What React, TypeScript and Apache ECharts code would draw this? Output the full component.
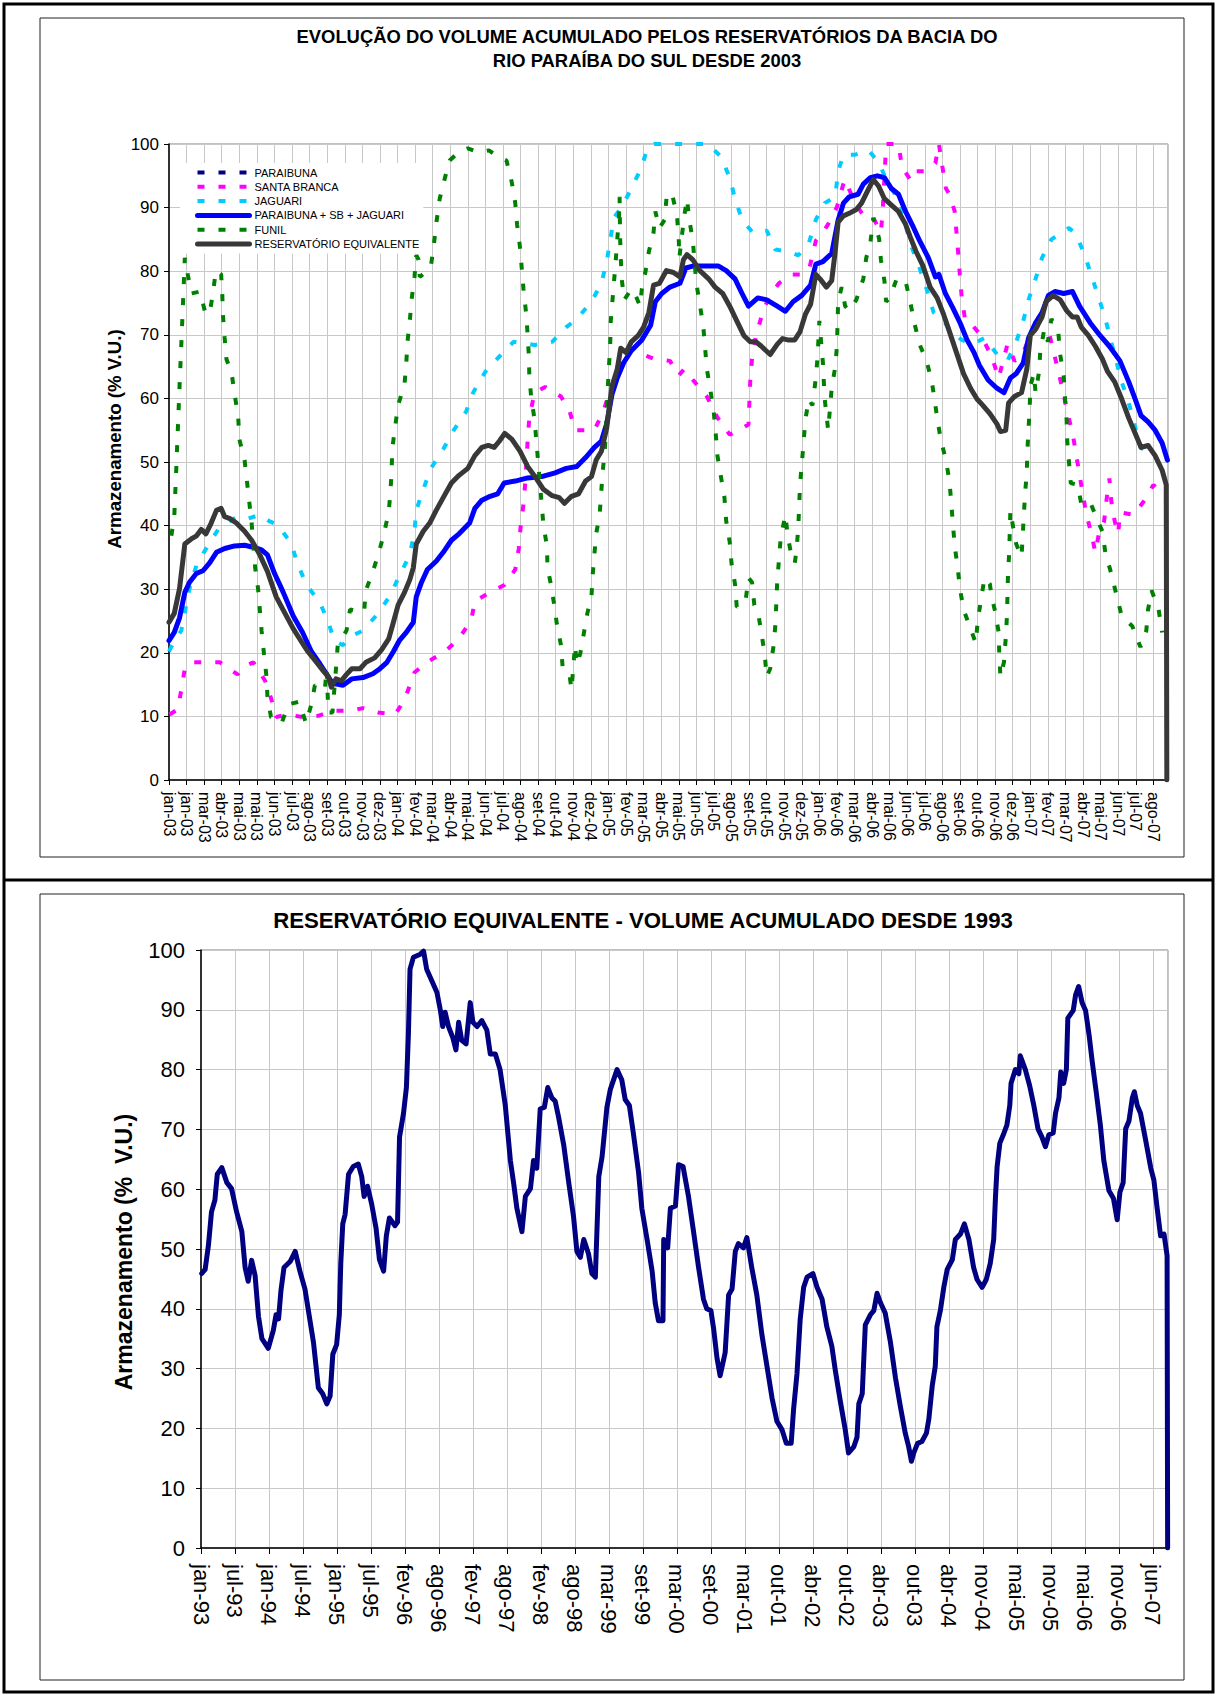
import React, { useEffect, useRef } from 'react';
import * as echarts from 'echarts';

// ---------- tick labels ----------
const topTickLabels = [
  'jan-03', 'jan-03', 'mar-03', 'abr-03', 'mai-03', 'mai-03', 'jun-03', 'jul-03', 'ago-03', 'set-03', 'out-03', 'nov-03', 'dez-03',
  'jan-04', 'fev-04', 'mar-04', 'abr-04', 'mai-04', 'jun-04', 'jul-04', 'ago-04', 'set-04', 'out-04', 'nov-04', 'dez-04',
  'jan-05', 'fev-05', 'mar-05', 'abr-05', 'mai-05', 'jun-05', 'jul-05', 'ago-05', 'set-05', 'out-05', 'nov-05', 'dez-05',
  'jan-06', 'fev-06', 'mar-06', 'abr-06', 'mai-06', 'jun-06', 'jul-06', 'ago-06', 'set-06', 'out-06', 'nov-06', 'dez-06',
  'jan-07', 'fev-07', 'mar-07', 'abr-07', 'mai-07', 'jun-07', 'jul-07', 'ago-07',
];
const bottomTickLabels = [
  'jan-93', 'jul-93', 'jan-94', 'jul-94', 'jan-95', 'jul-95', 'fev-96', 'ago-96', 'fev-97', 'ago-97', 'fev-98', 'ago-98',
  'mar-99', 'set-99', 'mar-00', 'set-00', 'mar-01', 'out-01', 'abr-02', 'out-02', 'abr-03', 'out-03', 'abr-04', 'nov-04',
  'mai-05', 'nov-05', 'mai-06', 'nov-06', 'jun-07',
];
const TOP_STEP = 30; // days between top tick labels (day 0 = 1 jan 2003)
const TOP_MAX = 1705;
const BOTTOM_STEP = 188; // days between bottom tick labels (day 0 = 1 jan 1993)
const BOTTOM_MAX = 5348;

// ---------- series (day, % V.U.) ----------
const paraibuna: [number, number][] = [];

const santaBranca: [number, number][] = [
  [1, 10.3], [15, 11.1], [21, 14.2], [27, 17.5], [38, 18.5], [63, 18.5], [87, 18.5], [117, 16.6], [129, 17.9], [144, 18.5],
  [164, 15.6], [174, 12.9], [183, 9.9], [201, 10.3], [228, 9.9], [255, 10.1], [279, 10.9], [309, 10.9], [331, 11.3], [357, 10.6],
  [386, 10.3], [402, 12.6], [419, 16.9], [440, 18.5], [471, 20.2], [495, 22.2], [516, 25.2], [522, 28.1], [548, 29.5], [573, 30.7],
  [591, 33.1], [597, 36.4], [600, 39.7], [605, 43.4], [608, 46.7], [610, 50.0], [612, 53.3], [615, 57.0], [624, 60.9], [642, 61.8],
  [669, 60.3], [684, 57.9], [693, 55.0], [708, 55.0], [726, 55.0], [741, 57.9], [753, 61.3], [768, 65.2], [783, 67.9], [804, 67.1],
  [828, 66.2], [855, 65.9], [870, 63.6], [879, 64.6], [897, 62.6], [918, 60.3], [936, 57.0], [957, 54.3], [978, 55.3], [989, 55.9],
  [992, 62.6], [995, 66.2], [1002, 69.9], [1011, 72.8], [1023, 75.8], [1041, 78.1], [1062, 79.5], [1077, 79.5], [1092, 80.1], [1104, 84.8],
  [1116, 86.1], [1125, 87.4], [1140, 90.1], [1153, 94.4], [1173, 90.4], [1188, 88.4], [1202, 88.4], [1215, 86.1], [1218, 89.4], [1224, 100],
  [1245, 100], [1251, 96.4], [1265, 94.4], [1269, 95.7], [1290, 95.7], [1308, 97.0], [1314, 100], [1320, 96.4], [1326, 93.0], [1332, 92.1],
  [1341, 89.4], [1344, 86.1], [1347, 82.8], [1350, 79.1], [1353, 75.8], [1359, 72.2], [1371, 71.5], [1386, 69.9], [1404, 66.6], [1416, 63.2],
  [1431, 68.5], [1443, 65.9], [1455, 66.6], [1467, 69.2], [1482, 71.2], [1491, 70.5], [1503, 69.9], [1518, 64.2], [1527, 60.6], [1533, 57.9],
  [1542, 54.6], [1548, 51.3], [1554, 48.0], [1560, 44.7], [1566, 41.7], [1575, 38.4], [1581, 35.8], [1587, 38.7], [1596, 40.7], [1600, 44.0],
  [1605, 47.4], [1608, 44.0], [1614, 40.7], [1620, 38.7], [1623, 42.1], [1647, 41.7], [1665, 44.0], [1680, 46.4], [1701, 44.4],
];

const jaguari: [number, number][] = [
  [0, 20.2], [9, 21.9], [21, 23.5], [35, 30.1], [47, 33.8], [66, 36.8], [84, 39.4], [98, 40.4], [117, 41.4], [135, 41.1],
  [155, 41.7], [171, 40.7], [186, 40.1], [209, 37.1], [219, 34.1], [234, 30.8], [258, 27.8], [272, 24.8], [282, 21.9], [297, 21.2],
  [309, 22.5], [331, 23.5], [357, 26.2], [378, 29.1], [393, 32.1], [411, 35.4], [419, 39.1], [422, 42.4], [434, 45.7], [447, 49.0],
  [468, 52.0], [486, 55.0], [507, 57.9], [519, 60.9], [540, 64.2], [564, 66.6], [588, 68.9], [624, 68.4], [654, 68.9], [678, 71.2],
  [696, 72.5], [721, 75.2], [738, 78.1], [747, 81.5], [753, 84.8], [759, 88.4], [773, 90.1], [789, 93.0], [807, 96.4], [816, 99.3],
  [828, 100], [920, 100], [942, 98.0], [957, 94.7], [966, 91.4], [978, 88.1], [996, 86.1], [1020, 86.4], [1035, 83.4], [1056, 83.1],
  [1074, 82.5], [1092, 84.4], [1104, 88.1], [1119, 90.7], [1137, 91.7], [1142, 95.7], [1151, 98.3], [1170, 98.3], [1194, 99.0], [1212, 97.0],
  [1224, 94.4], [1248, 90.7], [1265, 84.4], [1281, 80.5], [1293, 77.2], [1305, 73.5], [1322, 72.2], [1335, 70.5], [1353, 69.2], [1371, 68.5],
  [1392, 69.5], [1416, 66.6], [1431, 65.9], [1446, 68.9], [1458, 72.2], [1467, 75.5], [1479, 78.8], [1490, 82.1], [1506, 85.0], [1536, 86.8],
  [1548, 85.8], [1563, 82.5], [1575, 79.1], [1587, 75.8], [1599, 72.2], [1608, 68.9], [1626, 62.6], [1638, 59.3], [1658, 52.3], [1680, 51.0],
];

const paraibunaSbJaguari: [number, number][] = [
  [0, 21.9], [9, 23.2], [18, 25.5], [27, 29.5], [35, 31.1], [47, 32.5], [58, 32.9], [69, 34.1], [81, 35.8], [95, 36.4],
  [112, 36.8], [129, 36.9], [144, 36.6], [158, 36.2], [168, 35.4], [180, 32.5], [195, 29.5], [212, 25.8], [228, 23.2], [243, 20.2],
  [258, 18.2], [272, 16.2], [279, 15.2], [297, 14.9], [312, 15.9], [331, 16.1], [348, 16.7], [360, 17.5], [372, 18.5], [383, 20.2],
  [393, 21.9], [405, 23.2], [417, 24.8], [422, 28.8], [431, 31.1], [441, 33.1], [456, 34.4], [468, 35.8], [482, 37.7], [495, 38.7],
  [513, 40.4], [522, 42.7], [534, 44.0], [548, 44.6], [561, 45.0], [572, 46.7], [591, 47.0], [612, 47.5], [636, 47.7], [659, 48.3],
  [678, 49.0], [696, 49.3], [711, 50.7], [726, 52.3], [738, 53.3], [747, 56.0], [756, 60.6], [765, 63.2], [776, 65.6], [789, 67.5],
  [807, 69.2], [822, 71.5], [830, 75.2], [841, 76.5], [855, 77.5], [872, 78.1], [882, 80.5], [894, 80.8], [915, 80.8], [938, 80.8],
  [951, 80.1], [966, 78.8], [978, 76.5], [989, 74.5], [1005, 75.8], [1020, 75.5], [1038, 74.5], [1052, 73.7], [1065, 75.2], [1080, 76.2],
  [1095, 77.8], [1104, 81.1], [1116, 81.5], [1131, 82.8], [1142, 88.0], [1151, 90.7], [1161, 91.7], [1176, 92.1], [1185, 93.7], [1197, 94.7],
  [1209, 95.0], [1221, 94.7], [1233, 93.0], [1245, 92.1], [1257, 89.4], [1271, 86.8], [1281, 84.8], [1296, 82.1], [1308, 79.1], [1314, 79.5],
  [1325, 76.5], [1338, 74.2], [1350, 71.9], [1362, 69.2], [1374, 67.2], [1383, 65.2], [1398, 62.9], [1413, 61.6], [1425, 60.9], [1436, 63.2],
  [1446, 63.9], [1458, 65.6], [1467, 69.5], [1479, 71.9], [1490, 73.5], [1501, 76.2], [1512, 76.8], [1527, 76.5], [1542, 76.8], [1554, 74.5],
  [1572, 71.9], [1589, 69.9], [1605, 68.2], [1623, 65.9], [1638, 62.6], [1649, 59.9], [1659, 57.3], [1671, 56.3], [1683, 55.0], [1695, 53.0],
  [1704, 50.3],
];

const funil: [number, number][] = [
  [4, 38.4], [9, 41.4], [12, 48.0], [15, 55.0], [18, 61.9], [21, 68.5], [24, 75.2], [27, 82.1], [32, 79.5], [38, 76.5],
  [53, 76.8], [61, 73.8], [69, 73.2], [75, 76.5], [80, 80.1], [89, 79.5], [91, 76.2], [92, 73.2], [95, 69.5], [98, 66.2],
  [107, 63.9], [112, 60.6], [118, 57.3], [120, 53.6], [129, 50.3], [133, 47.0], [137, 43.7], [141, 40.4], [147, 33.4], [152, 30.1],
  [155, 26.8], [158, 23.5], [162, 19.9], [166, 16.6], [168, 13.2], [174, 9.9], [192, 8.9], [204, 11.9], [222, 12.3], [234, 8.9],
  [243, 11.9], [249, 14.9], [266, 14.2], [269, 17.5], [272, 10.6], [279, 10.6], [285, 17.5], [288, 21.2], [303, 23.5], [309, 26.8],
  [323, 26.5], [333, 26.5], [336, 29.8], [348, 32.8], [357, 35.4], [366, 38.4], [375, 42.1], [378, 45.4], [380, 48.7], [381, 52.0],
  [386, 55.6], [391, 58.9], [402, 62.3], [405, 65.6], [407, 68.9], [411, 72.2], [414, 75.5], [419, 79.1], [422, 82.5], [426, 81.8],
  [428, 79.1], [437, 79.8], [447, 80.8], [452, 84.1], [456, 87.4], [462, 91.4], [471, 94.7], [479, 97.4], [494, 98.7], [510, 99.3],
  [528, 98.7], [546, 99.0], [561, 98.0], [576, 97.4], [585, 94.0], [591, 90.7], [594, 87.4], [599, 83.8], [602, 80.5], [605, 77.2],
  [609, 73.8], [612, 70.2], [614, 66.9], [615, 63.6], [618, 60.3], [624, 56.6], [627, 53.3], [630, 50.0], [633, 46.7], [639, 40.1],
  [645, 36.8], [646, 33.4], [651, 31.1], [657, 27.8], [662, 24.5], [669, 21.2], [672, 17.5], [678, 16.6], [684, 16.2], [687, 14.2],
  [693, 21.2], [696, 18.2], [702, 19.9], [714, 26.2], [721, 28.8], [723, 32.1], [729, 38.7], [735, 41.7], [740, 48.3], [744, 52.0],
  [749, 61.9], [753, 68.5], [754, 72.2], [759, 77.8], [762, 81.1], [768, 88.7], [769, 91.7], [770, 85.1], [771, 82.1], [773, 78.5],
  [777, 75.5], [789, 77.2], [795, 76.5], [804, 74.5], [807, 77.2], [813, 79.8], [819, 83.1], [827, 86.1], [830, 89.4], [837, 86.8],
  [846, 88.1], [849, 91.4], [858, 92.4], [867, 88.7], [870, 85.1], [871, 82.1], [879, 88.4], [884, 91.4], [888, 88.1], [894, 84.8],
  [900, 78.1], [906, 74.8], [912, 71.2], [915, 67.9], [918, 64.6], [924, 61.3], [930, 57.6], [933, 54.6], [936, 51.0], [942, 47.7],
  [948, 44.4], [951, 40.7], [957, 37.4], [960, 34.1], [966, 30.8], [969, 27.2], [984, 28.1], [989, 31.8], [995, 31.1], [999, 27.5],
  [1005, 26.5], [1011, 23.2], [1017, 19.5], [1020, 16.2], [1026, 17.5], [1032, 21.2], [1035, 24.5], [1038, 31.1], [1044, 38.1], [1052, 41.7],
  [1056, 38.4], [1062, 35.4], [1068, 34.1], [1071, 36.1], [1074, 39.7], [1077, 46.4], [1080, 49.7], [1083, 53.0], [1086, 56.6], [1092, 59.9],
  [1098, 58.9], [1104, 63.2], [1107, 66.6], [1110, 72.2], [1116, 65.6], [1119, 60.0], [1125, 55.0], [1131, 61.6], [1137, 64.9], [1140, 68.2],
  [1142, 75.2], [1148, 77.5], [1154, 74.5], [1161, 73.8], [1173, 75.5], [1185, 78.8], [1190, 82.1], [1197, 84.4], [1202, 88.4], [1212, 85.1],
  [1215, 81.8], [1221, 78.5], [1224, 75.2], [1230, 75.8], [1242, 78.8], [1257, 78.5], [1265, 75.2], [1272, 71.9], [1281, 68.5], [1293, 65.9],
  [1302, 62.6], [1308, 58.9], [1311, 57.0], [1317, 53.6], [1326, 50.3], [1332, 47.0], [1335, 43.7], [1338, 40.1], [1341, 36.8], [1346, 33.4],
  [1350, 30.1], [1356, 26.8], [1368, 23.8], [1377, 21.5], [1380, 24.8], [1386, 28.5], [1392, 31.8], [1401, 30.8], [1404, 28.8], [1410, 26.5],
  [1416, 23.2], [1417, 19.9], [1419, 16.2], [1425, 18.5], [1428, 22.2], [1430, 25.5], [1431, 28.8], [1432, 32.5], [1434, 35.8], [1435, 39.1],
  [1436, 42.4], [1440, 40.1], [1446, 37.1], [1455, 35.1], [1457, 38.4], [1459, 41.7], [1461, 45.0], [1464, 48.3], [1465, 51.7], [1467, 55.3],
  [1469, 58.6], [1470, 61.9], [1476, 63.9], [1479, 60.9], [1485, 64.2], [1487, 67.5], [1494, 70.9], [1500, 68.9], [1506, 72.5], [1518, 70.2],
  [1521, 66.9], [1527, 63.6], [1529, 60.3], [1532, 56.6], [1533, 53.3], [1536, 50.0], [1539, 46.7], [1551, 46.4], [1557, 43.4], [1572, 43.7],
  [1581, 41.7], [1593, 39.1], [1598, 35.8], [1608, 32.5], [1617, 29.1], [1626, 25.8], [1644, 24.2], [1658, 20.9], [1668, 23.5], [1671, 26.8],
  [1677, 29.8], [1689, 26.8], [1695, 23.2],
];

const reservatorioEquivalente: [number, number][] = [
  [0, 24.8], [9, 26.2], [18, 30.1], [27, 37.1], [38, 37.9], [47, 38.4], [55, 39.4], [63, 38.7], [72, 40.4], [81, 42.4],
  [89, 42.7], [95, 41.4], [104, 41.1], [115, 40.4], [129, 39.1], [141, 37.7], [155, 35.4], [168, 32.8], [183, 28.8], [198, 26.2],
  [212, 23.8], [225, 21.9], [237, 20.2], [252, 18.5], [263, 17.2], [272, 16.2], [277, 14.6], [285, 15.9], [294, 15.6], [303, 16.6],
  [312, 17.5], [326, 17.5], [336, 18.5], [351, 19.2], [363, 20.5], [375, 22.2], [383, 24.8], [391, 27.5], [402, 29.5], [411, 31.5],
  [417, 33.4], [422, 37.1], [434, 39.1], [445, 40.4], [456, 42.4], [468, 44.4], [482, 46.7], [495, 47.9], [510, 49.0], [522, 51.0],
  [534, 52.3], [545, 52.6], [555, 52.3], [564, 53.3], [573, 54.5], [585, 53.6], [599, 51.7], [612, 49.3], [627, 47.4], [639, 45.7],
  [654, 44.7], [666, 44.4], [675, 43.5], [687, 44.6], [699, 45.0], [711, 47.0], [721, 47.7], [729, 50.3], [738, 51.7], [747, 55.3],
  [756, 61.9], [765, 64.6], [771, 67.9], [780, 67.2], [789, 68.9], [801, 69.9], [810, 71.2], [819, 73.5], [827, 77.8], [837, 78.1],
  [849, 80.1], [861, 79.8], [872, 79.1], [878, 81.8], [884, 82.6], [894, 81.8], [906, 80.1], [921, 78.8], [932, 77.5], [945, 76.5],
  [957, 74.5], [969, 72.2], [981, 69.9], [992, 68.9], [1002, 68.9], [1011, 68.2], [1026, 66.9], [1038, 68.5], [1047, 69.4], [1056, 69.2],
  [1068, 69.2], [1077, 70.5], [1086, 73.2], [1095, 74.8], [1104, 79.5], [1111, 78.8], [1122, 77.5], [1131, 78.5], [1137, 83.1], [1142, 87.7],
  [1151, 88.7], [1161, 89.1], [1173, 89.7], [1182, 90.7], [1191, 92.4], [1202, 94.4], [1211, 93.4], [1221, 91.4], [1233, 90.4], [1245, 89.4],
  [1257, 87.4], [1265, 85.4], [1275, 83.1], [1287, 80.8], [1299, 77.5], [1311, 75.8], [1322, 73.2], [1332, 70.5], [1344, 67.2], [1356, 63.9],
  [1368, 61.6], [1379, 59.9], [1389, 58.9], [1401, 57.6], [1413, 56.0], [1419, 54.8], [1428, 55.0], [1433, 59.3], [1443, 60.3], [1455, 60.9],
  [1464, 64.6], [1470, 69.9], [1479, 70.9], [1490, 72.8], [1497, 75.2], [1509, 76.2], [1521, 75.5], [1532, 73.8], [1542, 72.8], [1550, 72.8],
  [1557, 71.2], [1569, 69.9], [1581, 68.2], [1593, 66.2], [1602, 64.2], [1614, 62.6], [1626, 59.9], [1638, 56.9], [1650, 54.3], [1659, 52.3],
  [1671, 52.6], [1683, 51.0], [1695, 48.7], [1702, 46.4], [1703, 0],
];

const reservatorioEquivalente1993: [number, number][] = [
  [4, 45.9], [23, 46.6], [41, 50.6], [58, 56.2], [77, 58.2], [90, 62.5], [115, 63.6], [143, 61.1], [169, 60.1], [197, 56.2],
  [226, 52.9], [244, 46.9], [261, 44.6], [280, 48.1], [299, 45.6], [318, 38.7], [337, 35.0], [372, 33.4], [400, 36.4], [415, 39.0],
  [429, 38.3], [442, 43.0], [459, 46.9], [493, 47.9], [521, 49.6], [547, 46.3], [575, 43.3], [594, 39.7], [622, 34.4], [649, 26.8],
  [673, 25.8], [696, 24.1], [714, 25.4], [729, 32.4], [750, 34.0], [765, 39.0], [773, 47.6], [784, 54.2], [797, 55.8], [816, 62.5],
  [842, 63.8], [870, 64.2], [889, 62.1], [902, 58.8], [921, 60.5], [944, 57.5], [968, 53.5], [987, 48.2], [1010, 46.3], [1025, 52.2],
  [1042, 55.2], [1073, 53.9], [1087, 54.5], [1098, 68.7], [1120, 72.7], [1136, 77.0], [1147, 85.9], [1156, 96.8], [1175, 98.8], [1213, 99.3],
  [1231, 99.8], [1248, 96.8], [1277, 94.8], [1305, 92.9], [1324, 89.9], [1337, 87.2], [1350, 89.6], [1369, 87.2], [1393, 85.3], [1410, 83.3],
  [1425, 87.9], [1442, 84.9], [1466, 84.3], [1489, 91.2], [1504, 87.9], [1527, 87.2], [1553, 88.2], [1581, 86.6], [1600, 82.6], [1628, 82.6],
  [1654, 80.0], [1683, 74.0], [1711, 64.8], [1730, 60.8], [1747, 56.8], [1775, 52.9], [1794, 58.8], [1822, 60.1], [1839, 64.8], [1857, 63.5],
  [1876, 73.4], [1899, 73.7], [1918, 77.0], [1940, 75.3], [1959, 74.7], [1978, 72.0], [2006, 67.4], [2032, 61.5], [2060, 55.5], [2079, 49.6],
  [2098, 48.6], [2117, 51.6], [2143, 49.2], [2162, 45.9], [2181, 45.3], [2200, 62.1], [2218, 65.4], [2245, 73.7], [2264, 76.7], [2301, 80.0],
  [2327, 78.3], [2346, 75.0], [2369, 74.0], [2391, 69.4], [2420, 62.8], [2438, 56.8], [2467, 51.6], [2495, 46.3], [2512, 41.0], [2530, 38.0],
  [2555, 38.0], [2559, 51.6], [2581, 50.2], [2596, 56.8], [2624, 57.2], [2641, 64.1], [2666, 63.8], [2696, 58.8], [2724, 52.9], [2752, 46.9],
  [2779, 41.6], [2797, 40.0], [2820, 39.7], [2835, 36.7], [2854, 31.7], [2871, 28.8], [2899, 32.7], [2918, 42.3], [2937, 43.3], [2955, 49.6],
  [2972, 50.9], [3000, 50.2], [3019, 51.9], [3046, 46.9], [3074, 42.3], [3102, 35.7], [3130, 30.4], [3158, 25.1], [3185, 21.2], [3213, 19.8],
  [3237, 17.5], [3264, 17.5], [3277, 23.1], [3296, 29.1], [3314, 38.3], [3333, 43.6], [3352, 45.3], [3384, 45.9], [3407, 43.6], [3435, 41.6],
  [3461, 37.0], [3489, 33.7], [3508, 29.7], [3536, 24.5], [3563, 19.8], [3581, 15.9], [3610, 16.9], [3628, 18.5], [3638, 24.1], [3657, 25.8],
  [3674, 37.3], [3702, 39.0], [3721, 39.7], [3739, 42.6], [3758, 41.0], [3784, 39.3], [3813, 34.4], [3841, 28.4], [3867, 23.8], [3895, 19.2],
  [3914, 16.9], [3929, 14.5], [3942, 15.9], [3963, 17.5], [3987, 17.8], [4012, 19.2], [4025, 21.5], [4044, 27.1], [4061, 30.4], [4070, 37.0],
  [4089, 39.7], [4108, 43.6], [4127, 46.6], [4155, 48.2], [4172, 51.6], [4200, 52.5], [4222, 54.2], [4247, 51.6], [4273, 46.9], [4292, 44.9],
  [4320, 43.6], [4343, 44.9], [4365, 47.6], [4384, 51.6], [4394, 58.8], [4403, 63.8], [4418, 67.7], [4441, 69.4], [4457, 70.7], [4473, 74.0],
  [4480, 77.7], [4504, 80.0], [4523, 79.3], [4531, 82.3], [4559, 80.0], [4583, 77.3], [4606, 74.0], [4629, 70.1], [4651, 68.7], [4670, 67.1],
  [4689, 69.1], [4713, 69.4], [4726, 72.7], [4745, 75.3], [4755, 79.6], [4771, 77.7], [4786, 80.0], [4794, 88.6], [4824, 89.9], [4837, 92.5],
  [4854, 93.9], [4873, 91.2], [4892, 89.9], [4911, 85.9], [4929, 81.3], [4952, 76.0], [4974, 70.7], [4993, 64.8], [5021, 59.8], [5046, 58.5],
  [5067, 54.9], [5082, 59.5], [5100, 61.1], [5114, 70.1], [5132, 71.4], [5151, 75.3], [5162, 76.3], [5178, 74.0], [5196, 72.7], [5225, 68.1],
  [5253, 63.5], [5270, 61.5], [5288, 56.8], [5307, 52.2], [5326, 52.5], [5343, 48.9], [5346, 0],
];

const legendNames = [
  'PARAIBUNA', 'SANTA BRANCA', 'JAGUARI', 'PARAIBUNA + SB + JAGUARI', 'FUNIL', 'RESERVATÓRIO EQUIVALENTE',
];

const FONT = "'Liberation Sans', Arial, sans-serif";
const DASH = [7, 14];
const GRID_COLOR = '#c8c8c8';

function dashed(name: string, color: string, data: [number, number][]) {
  return {
    name, type: 'line', xAxisIndex: 0, yAxisIndex: 0, data,
    showSymbol: false, symbol: 'none', silent: true,
    itemStyle: { color },
    lineStyle: { color, width: 4, type: DASH, cap: 'butt' },
    emphasis: { disabled: true },
  };
}
function solid(name: string, color: string, data: [number, number][], xi: number, width: number) {
  return {
    name, type: 'line', xAxisIndex: xi, yAxisIndex: xi, data,
    showSymbol: false, symbol: 'none', silent: true,
    itemStyle: { color },
    lineStyle: { color, width, type: 'solid', join: 'round', cap: 'round' },
    emphasis: { disabled: true },
  };
}

function valueYAxis(gridIndex: number, fontSize: number, margin: number) {
  return {
    type: 'value', gridIndex, min: 0, max: 100, interval: 10,
    axisLine: { show: true, lineStyle: { color: '#000', width: 1.5 } },
    axisTick: { show: true, length: 5, lineStyle: { color: '#000' } },
    axisLabel: { fontSize, color: '#000', margin, fontFamily: FONT },
    splitLine: { show: true, lineStyle: { color: GRID_COLOR, width: 1 } },
  };
}

const option: any = {
  animation: false,
  backgroundColor: '#fff',
  title: [
    {
      text: 'EVOLUÇÃO DO VOLUME ACUMULADO PELOS RESERVATÓRIOS DA BACIA DO\nRIO PARAÍBA DO SUL DESDE 2003',
      left: 647, top: 24, textAlign: 'center', padding: 0,
      textStyle: { fontSize: 18.4, fontWeight: 'bold', color: '#000', lineHeight: 24, fontFamily: FONT },
    },
    {
      text: 'RESERVATÓRIO EQUIVALENTE - VOLUME ACUMULADO DESDE 1993',
      left: 643, top: 908, textAlign: 'center', padding: 0,
      textStyle: { fontSize: 22.2, fontWeight: 'bold', color: '#000', lineHeight: 24, fontFamily: FONT },
    },
  ],
  legend: {
    data: legendNames.map((n, i) => ({
      name: n,
      itemStyle: { opacity: 0 },
      lineStyle: i === 3 || i === 5 ? { width: 5, type: 'solid', cap: 'round' } : { width: 4, type: DASH, cap: 'butt' },
    })),
    orient: 'vertical', left: 180, top: 163,
    backgroundColor: '#fff', padding: [4, 4, 4, 15],
    itemWidth: 52, itemHeight: 10, itemGap: 3.3, selectedMode: false,
    textStyle: { fontSize: 11, color: '#000', fontFamily: FONT },
  },
  grid: [
    { left: 169, top: 144, width: 999, height: 636, show: true, borderColor: '#808080', borderWidth: 1, backgroundColor: '#fff' },
    { left: 201, top: 950, width: 967, height: 598, show: true, borderColor: '#808080', borderWidth: 1, backgroundColor: '#fff' },
  ],
  xAxis: [
    {
      type: 'value', gridIndex: 0, min: 0, max: TOP_MAX, interval: TOP_STEP,
      axisLine: { show: true, onZero: false, lineStyle: { color: '#000', width: 1.5 } },
      axisTick: { show: true, length: 5, lineStyle: { color: '#000' } },
      axisLabel: {
        rotate: -90, fontSize: 16, color: '#000', margin: 12, fontFamily: FONT, showMaxLabel: false,
        formatter: (v: number) => {
          const i = Math.round(v / TOP_STEP);
          return Math.abs(v - i * TOP_STEP) < 0.01 && i < topTickLabels.length ? topTickLabels[i] : '';
        },
      },
      splitLine: { show: true, lineStyle: { color: GRID_COLOR, width: 1 } },
    },
    {
      type: 'value', gridIndex: 1, min: 0, max: BOTTOM_MAX, interval: BOTTOM_STEP,
      axisLine: { show: true, onZero: false, lineStyle: { color: '#000', width: 1.5 } },
      axisTick: { show: true, length: 6, lineStyle: { color: '#000' } },
      axisLabel: {
        rotate: -90, fontSize: 22, color: '#000', margin: 16, fontFamily: FONT, showMaxLabel: false,
        formatter: (v: number) => {
          const i = Math.round(v / BOTTOM_STEP);
          return Math.abs(v - i * BOTTOM_STEP) < 0.01 && i < bottomTickLabels.length ? bottomTickLabels[i] : '';
        },
      },
      splitLine: { show: true, lineStyle: { color: GRID_COLOR, width: 1 } },
    },
  ],
  yAxis: [valueYAxis(0, 17, 10), valueYAxis(1, 22, 16)],
  series: [
    dashed('PARAIBUNA', '#000080', paraibuna),
    dashed('SANTA BRANCA', '#ff00ff', santaBranca),
    dashed('JAGUARI', '#00ccff', jaguari),
    solid('PARAIBUNA + SB + JAGUARI', '#0000ff', paraibunaSbJaguari, 0, 5),
    dashed('FUNIL', '#008000', funil),
    solid('RESERVATÓRIO EQUIVALENTE', '#383838', reservatorioEquivalente, 0, 5),
    solid('RESERVATÓRIO EQUIVALENTE 1993', '#000080', reservatorioEquivalente1993, 1, 5),
  ],
  graphic: [
    { type: 'rect', shape: { x: 4, y: 4, width: 1209, height: 1688 }, style: { fill: 'none', stroke: '#000', lineWidth: 3 }, silent: true },
    { type: 'line', shape: { x1: 4, y1: 880, x2: 1213, y2: 880 }, style: { stroke: '#000', lineWidth: 3 }, silent: true },
    { type: 'rect', shape: { x: 40, y: 18, width: 1144, height: 839 }, style: { fill: 'none', stroke: '#222', lineWidth: 1 }, silent: true },
    { type: 'rect', shape: { x: 40, y: 894, width: 1144, height: 786 }, style: { fill: 'none', stroke: '#222', lineWidth: 1 }, silent: true },
    {
      type: 'text', x: 114, y: 439, rotation: Math.PI / 2, silent: true,
      style: { text: 'Armazenamento (% V.U.)', fill: '#000', font: `bold 18.7px ${FONT}`, align: 'center', verticalAlign: 'middle' },
    },
    {
      type: 'text', x: 124, y: 1252, rotation: Math.PI / 2, silent: true,
      style: { text: 'Armazenamento (%  V.U.)', fill: '#000', font: `bold 23px ${FONT}`, align: 'center', verticalAlign: 'middle' },
    },
  ],
};

export default function App() {
  const ref = useRef<HTMLDivElement>(null);
  useEffect(() => {
    if (!ref.current) return;
    const chart = echarts.init(ref.current, null, { renderer: 'svg' });
    chart.setOption(option);
    return () => chart.dispose();
  }, []);
  return (
    <div
      ref={ref}
      style={{ position: 'absolute', left: 0, top: 0, width: 1216, height: 1696, background: '#fff' }}
    />
  );
}
